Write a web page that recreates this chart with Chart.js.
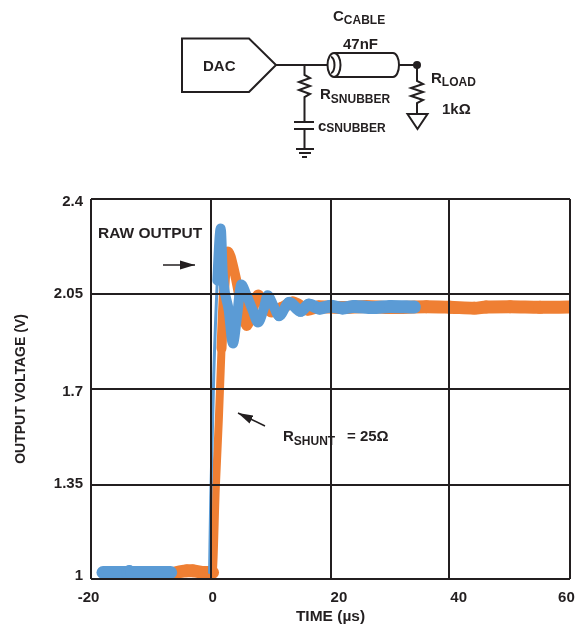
<!DOCTYPE html>
<html>
<head>
<meta charset="utf-8">
<style>
  html, body { margin: 0; padding: 0; background: #fff; }
  #wrap { position: relative; width: 581px; height: 627px; overflow: hidden; }
  #chart { position: absolute; left: 0; top: 0; }
  #overlay { position: absolute; left: 0; top: 0; }
  #overlay text { font-family: "Liberation Sans", Arial, sans-serif; font-weight: bold; fill: #231f20; }
  #overlay .w { fill: none; stroke: #231f20; stroke-width: 2; }
</style>
<script src="https://cdn.jsdelivr.net/npm/chart.js@4"></script>
</head>
<body>
<div id="wrap">
  <canvas id="chart" width="581" height="627"></canvas>
  <svg id="overlay" width="581" height="627">
    <defs>
      <marker id="head" markerWidth="16" markerHeight="10" refX="15" refY="5" orient="auto" markerUnits="userSpaceOnUse">
        <path d="M0 0.5 L15 5 L0 9.5 Z" fill="#231f20"/>
      </marker>
    </defs>
    <!-- circuit -->
    <path class="w" d="M182 38.5 H249 L276 65 L249 92 H182 Z"/>
    <path class="w" d="M276 65 H327"/>
    <path class="w" d="M334 53 H393 A6 12 0 0 1 393 77 H334"/>
    <ellipse class="w" cx="334" cy="65" rx="6.5" ry="12"/>
    <path class="w" d="M331 57 A3.5 8 0 0 1 331 73"/>
    <path class="w" d="M399 65 H417"/>
    <circle cx="417" cy="65" r="4" fill="#231f20"/>
    <path class="w" d="M417 65 V81 L423 84 L411 88 L423 92 L411 96 L423 100 L417 103 V114"/>
    <path class="w" d="M407.5 114 H427.5 L417.5 129 Z"/>
    <path class="w" d="M304.5 65 V75 L310 78 L299 82 L310 86 L299 90 L310 94 L304.5 97 V121.5"/>
    <path class="w" d="M294 122 H314 M294 129 H314 M304.5 129 V149 M296 149 H314 M299 153 H311 M302 157 H307"/>
    <text x="203" y="71" font-size="15">DAC</text>
    <text x="333" y="21" font-size="15">C<tspan dy="3" font-size="12">CABLE</tspan></text>
    <text x="343" y="49" font-size="15">47nF</text>
    <text x="431" y="83" font-size="15">R<tspan dy="3" font-size="12">LOAD</tspan></text>
    <text x="442" y="114" font-size="15">1kΩ</text>
    <text x="320" y="99" font-size="15">R<tspan dy="4" font-size="12">SNUBBER</tspan></text>
    <text x="318" y="131" font-size="15">c<tspan dy="1" font-size="12">SNUBBER</tspan></text>
    <!-- annotations -->
    <text x="98" y="238" font-size="15.5">RAW OUTPUT</text>
    <path d="M163 265 H195" stroke="#231f20" stroke-width="1.5" marker-end="url(#head)"/>
    <text x="283" y="441" font-size="15">R<tspan dy="4" font-size="12">SHUNT</tspan><tspan x="347" dy="-4">= 25Ω</tspan></text>
    <path d="M265 426 L238 413" stroke="#231f20" stroke-width="1.5" marker-end="url(#head)"/>
  </svg>
</div>
<script>
// valores
const rawTime = [-18, -14, -13.6, -13.2, -6.7, null, -0.2, 0, 0.5, 1.1, 1.67, 2, 3, 3.7, 4.4, 5.1, 5.9, 7, 7.9, 8.9, 9.5, 10.4, 11.4, 13.1, 15, 16.4, 18.2, 20, 22, 24, 27, 30, 34];
const rawVolts = [1.024, 1.024, 1.03, 1.024, 1.024, null, 1.024, 1.3, 1.75, 2.1, 2.291, 2.127, 1.99, 1.868, 1.97, 2.085, 2.05, 1.99, 1.945, 2.0, 2.045, 2.01, 1.969, 2.019, 1.987, 2.011, 1.997, 2.005, 1.998, 2.004, 2.0, 2.004, 2.002];
const shuntTime = [-5.8, -4, -3, -1, 0, 0.3, 0.85, 1.35, 1.8, 2.2, 2.85, 4, 5, 6, 7, 7.9, 9, 10.1, 12, 13.7, 16.2, 18, 22, 26, 30, 36, 40, 44, 46, 50, 55, 59.8];
const shuntVolts = [1.024, 1.03, 1.03, 1.024, 1.024, 1.024, 1.34, 1.586, 1.85, 2.05, 2.207, 2.127, 2.02, 1.932, 1.99, 2.048, 2.01, 1.986, 2.0, 2.019, 1.993, 2.003, 2.0, 2.004, 2.0, 2.003, 2.001, 1.998, 2.002, 2.003, 2.001, 2.002];

const xGridTicks = [-20, 0, 20, 39.85, 60];
const yGridTicks = [1, 1.345, 1.7, 2.05, 2.4];
// os rótulos não ficam exatamente sobre as linhas na figura original
const xLabelTicks = [-20.4, 0.3, 21.4, 41.4, 59.4];
const xLabelTexts = ['-20', '0', '20', '40', '60'];
const yLabelTicks = [1.013, 1.352, 1.69, 2.049, 2.388];
const yLabelTexts = ['1', '1.35', '1.7', '2.05', '2.4'];

const ink = '#231f20';
const tickFont = { family: '"Liberation Sans", Arial, sans-serif', weight: 'bold', size: 15 };

function toPoints(xs, ys) {
    return xs.map((x, i) => ({ x: x, y: ys[i] }));
}

// o traço é grosso na vertical (ruído), então fica mais fino nos trechos íngremes
function traceWidth(riseWidth, steepWidth) {
    return ctx => {
        const dx = ctx.p1.x - ctx.p0.x;
        const dy = ctx.p1.y - ctx.p0.y;
        const slope = Math.abs(dy) / Math.max(Math.abs(dx), 0.01);
        if (dy < 0 && ctx.p0.parsed.y < 1.85 && slope > 3) return riseWidth;
        return Math.max(steepWidth, 13 - slope * 2);
    };
}

function labelFrom(values, texts) {
    return value => {
        const i = values.findIndex(v => Math.abs(v - value) < 1e-6);
        return i < 0 ? '' : texts[i];
    };
}

new Chart(document.getElementById('chart'), {
    type: 'line',
    data: {
        datasets: [
            {
                label: 'RSHUNT = 25Ω',
                data: toPoints(shuntTime, shuntVolts),
                borderColor: '#ef7f33',
                borderWidth: 13,
                borderCapStyle: 'round',
                borderJoinStyle: 'round',
                pointRadius: 0,
                cubicInterpolationMode: 'monotone',
                segment: { borderWidth: traceWidth(8, 10) },
                xAxisID: 'x',
                yAxisID: 'y',
                order: 2
            },
            {
                label: 'RAW OUTPUT',
                data: toPoints(rawTime, rawVolts),
                borderColor: '#5b9bd5',
                borderWidth: 13,
                borderCapStyle: 'round',
                borderJoinStyle: 'round',
                pointRadius: 0,
                cubicInterpolationMode: 'monotone',
                segment: { borderWidth: traceWidth(3, 10) },
                xAxisID: 'x',
                yAxisID: 'y',
                order: 1
            }
        ]
    },
    options: {
        responsive: false,
        animation: false,
        layout: { padding: { top: 199, right: 11, bottom: 1, left: 13 } },
        plugins: { legend: { display: false }, tooltip: { enabled: false } },
        scales: {
            x: {
                type: 'linear', position: 'bottom', min: -20, max: 60,
                afterBuildTicks: s => { s.ticks = xGridTicks.map(v => ({ value: v })); },
                afterFit: s => { s.height = 0; },
                ticks: { display: false },
                border: { display: false },
                grid: { color: ink, lineWidth: 2, drawTicks: false, z: 1 }
            },
            xLabels: {
                type: 'linear', position: 'bottom', min: -20, max: 60,
                afterBuildTicks: s => { s.ticks = xLabelTicks.map(v => ({ value: v })); },
                afterFit: s => { s.height = 47; s.paddingLeft = 0; s.paddingRight = 0; },
                ticks: {
                    callback: labelFrom(xLabelTicks, xLabelTexts),
                    color: ink, font: tickFont, maxRotation: 0, autoSkip: false, padding: 10
                },
                border: { display: false },
                grid: { display: false, drawTicks: false },
                title: { display: true, text: 'TIME (µs)', color: ink, font: { family: tickFont.family, weight: 'bold', size: 15.5 }, padding: 0 }
            },
            y: {
                type: 'linear', position: 'left', min: 1, max: 2.4,
                afterBuildTicks: s => { s.ticks = yGridTicks.map(v => ({ value: v })); },
                afterFit: s => { s.width = 0; },
                ticks: { display: false },
                border: { display: false },
                grid: { color: ink, lineWidth: 2, drawTicks: false, z: 1 }
            },
            yLabels: {
                type: 'linear', position: 'left', min: 1, max: 2.4,
                afterBuildTicks: s => { s.ticks = yLabelTicks.map(v => ({ value: v })); },
                afterFit: s => { s.width = 78; s.paddingTop = 0; s.paddingBottom = 0; },
                ticks: {
                    callback: labelFrom(yLabelTicks, yLabelTexts),
                    color: ink, font: tickFont, autoSkip: false, padding: 8
                },
                border: { display: false },
                grid: { display: false, drawTicks: false },
                title: { display: true, text: 'OUTPUT VOLTAGE (V)', color: ink, font: { family: tickFont.family, weight: 'bold', size: 14 }, padding: 0 }
            }
        }
    }
});
</script>
</body>
</html>
